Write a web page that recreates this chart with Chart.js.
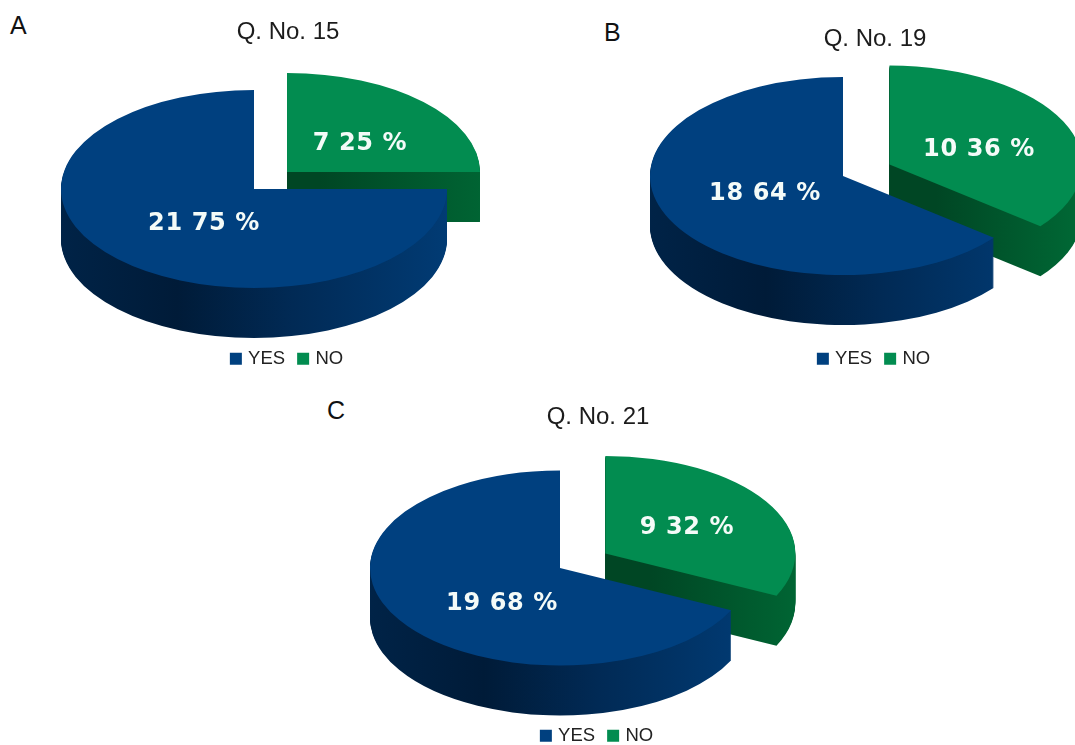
<!DOCTYPE html>
<html>
<head>
<meta charset="utf-8">
<style>
html,body{margin:0;padding:0;background:#fff;width:1075px;height:745px;overflow:hidden}
#page{position:relative;width:1075px;height:745px;overflow:hidden}
canvas{position:absolute}
.tag{position:absolute;font:25px "Liberation Sans",Arial,sans-serif;color:#111;line-height:28px}
</style>
<script src="https://cdn.jsdelivr.net/npm/chart.js@4"></script>
</head>
<body>
<div id="page">
<div class="tag" style="left:10px;top:11px">A</div>
<div class="tag" style="left:604px;top:18px">B</div>
<div class="tag" style="left:327px;top:396px">C</div>
</div>
<script>
const categories = ['YES', 'NO'];
const titles = ['Q. No. 15', 'Q. No. 19', 'Q. No. 21'];
const counts = [[21, 7], [18, 10], [19, 9]];
const percents = [[75, 25], [64, 36], [68, 32]];

const BLUE = '#00407f', GREEN = '#028c50';
const frames = [
  {left:0,   top:18,  w:576, h:360, cx:254, cy:189, r:193, off:46.7, label:[[204,224],[360,144]]},
  {left:580, top:25,  w:590, h:353, cx:843, cy:176, r:193, off:51.6, label:[[765,194],[979,150]]},
  {left:358, top:403, w:480, h:352, cx:560, cy:568, r:190, off:53.5, label:[[502,604],[687,528]]}
];
const KY = 0.513, DEPTH = 50;

const pie3d = {
  id: 'pie3d',
  afterLayout(chart, args, o) {
    const f = o.frame, a = chart.chartArea, x = f.cx - f.left, y = f.cy - f.top;
    a.left = x - f.r; a.right = x + f.r; a.top = y - f.r; a.bottom = y + f.r;
    a.width = 2 * f.r; a.height = 2 * f.r;
  },
  beforeDatasetDraw(chart, args, o) {
    const ctx = chart.ctx, f = o.frame, arcs = args.meta.data;
    const cy = f.cy - f.top;
    [1, 0].forEach(i => {
      const arc = arcs[i], base = arc.options;
      const mid = (arc.startAngle + arc.endAngle) / 2;
      const shift = i === 1 ? f.off : 0;
      const dx = Math.cos(mid) * shift, dy = Math.sin(mid) * shift;
      const ox = arc.x + dx;
      let g;
      if (i === 1) {
        const xmax = ox + f.r;
        const corner = Math.min(1, Math.max(0, Math.cos(arc.endAngle)));
        g = ctx.createLinearGradient(ox, 0, xmax, 0);
        g.addColorStop(0, '#004624');
        g.addColorStop(corner, '#006a36');
        if (corner < 1) {
          g.addColorStop(corner, '#00733c');
          g.addColorStop(1, '#008a4c');
        }
      } else {
        g = ctx.createLinearGradient(arc.x - f.r, 0, arc.x + f.r, 0);
        g.addColorStop(0, '#002347');
        g.addColorStop(0.3, '#001b38');
        g.addColorStop(0.6, '#012a55');
        g.addColorStop(1, '#013b74');
      }
      const place = k => {
        ctx.save();
        ctx.translate(0, cy + k);
        ctx.scale(1, KY);
        ctx.translate(dx, dy - cy);
        arc.draw(ctx);
        ctx.restore();
      };
      arc.options = Object.assign({}, base, {backgroundColor: g});
      for (let k = DEPTH; k >= 1; k--) place(k);
      arc.options = base;
      place(0);
    });
    return false;
  },
  afterDatasetsDraw(chart, args, o) {
    const ctx = chart.ctx, f = o.frame;
    ctx.save();
    ctx.fillStyle = '#f4fbf8';
    ctx.font = 'bold 24px "DejaVu Sans"';
    ctx.letterSpacing = '0.6px';
    ctx.textAlign = 'center';
    ctx.textBaseline = 'middle';
    o.values.forEach((v, i) => {
      ctx.fillText(v + ' ' + o.percents[i] + ' %', f.label[i][0] - f.left, f.label[i][1] - f.top);
    });
    ctx.restore();
  }
};

const page = document.getElementById('page');
frames.forEach((f, n) => {
  const c = document.createElement('canvas');
  c.width = f.w; c.height = f.h;
  c.style.left = f.left + 'px'; c.style.top = f.top + 'px';
  c.style.width = f.w + 'px'; c.style.height = f.h + 'px';
  page.appendChild(c);
  const yes = counts[n][0], no = counts[n][1];
  new Chart(c, {
    type: 'pie',
    plugins: [pie3d],
    data: {
      labels: categories,
      datasets: [{
        data: counts[n],
        backgroundColor: [BLUE, GREEN],
        borderWidth: 0,
        radius: f.r,
        clip: false
      }]
    },
    options: {
      responsive: false,
      animation: false,
      devicePixelRatio: 1,
      rotation: 360 * no / (yes + no),
      radius: f.r,
      layout: {padding: 0},
      plugins: {
        pie3d: {frame: f, values: counts[n], percents: percents[n]},
        tooltip: {enabled: false},
        title: {
          display: true,
          text: titles[n],
          color: '#1c1c1c',
          padding: 0,
          font: {family: '"Liberation Sans"', size: 24, weight: 'normal'}
        },
        legend: {
          position: 'bottom',
          labels: {
            color: '#222',
            font: {family: '"Liberation Sans"', size: 18.5},
            usePointStyle: true,
            pointStyle: 'rect',
            boxWidth: 6,
            boxHeight: 12,
            padding: 15
          }
        }
      }
    }
  });
});
</script>
</body>
</html>
